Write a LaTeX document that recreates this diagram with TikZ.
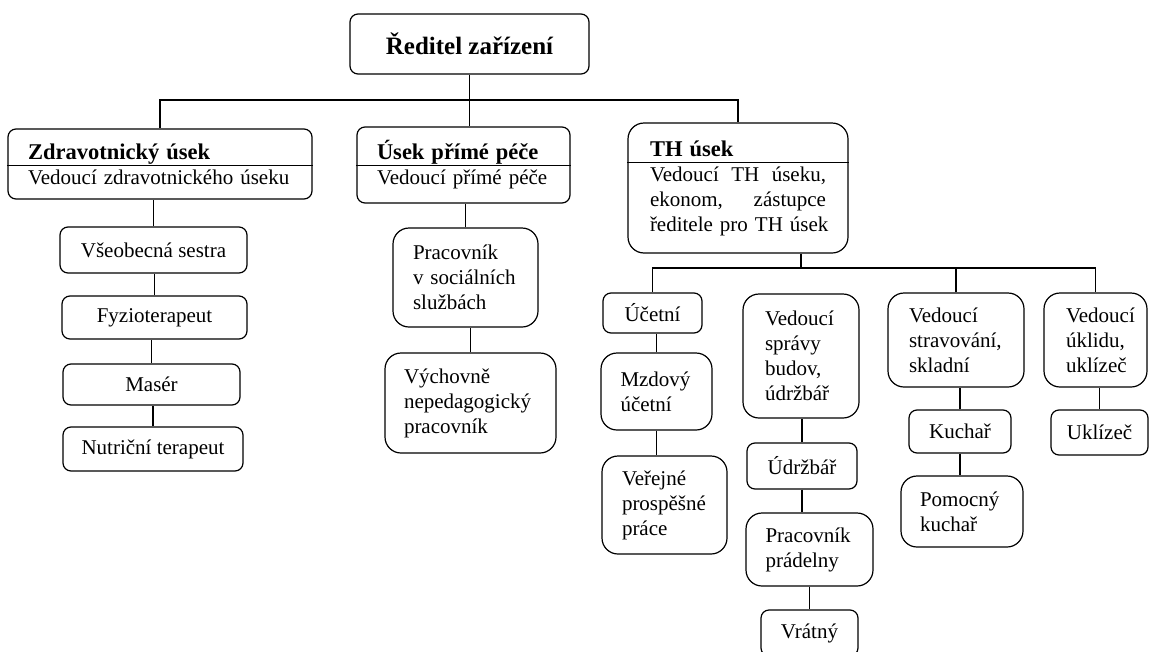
\documentclass[tikz,border=0pt]{standalone}
\usepackage{fontspec}
\setmainfont{Liberation Serif}
\newcommand{\unithead}[1]{{\fontsize{22.5}{25}\selectfont\bfseries #1}}

\begin{document}
\begin{tikzpicture}[x=1pt, y=-1pt, line width=1.2pt,
	unit/.style={draw, rounded corners=8pt, inner sep=0pt, align=center, font=\fontsize{21}{25}\selectfont},
	bigunit/.style={unit, rounded corners=16pt},
	sz/.style 2 args={minimum width=#1pt, minimum height=#2pt},
	txt/.style={text width=#1pt, align=left}]
\clip (0,0) rectangle (1149,651);
\node[unit, sz={239}{60}, font=\fontsize{25}{30}\selectfont\bfseries] (dir) at (469.5,44) {Ředitel zařízení};
\node[unit, sz={304}{70}, txt=264] (zdrav) at (160,164) {\unithead{Zdravotnický úsek}\\Vedoucí zdravotnického úseku};
\node[unit, sz={213}{76}, txt=173] (prime) at (463.5,165) {\unithead{Úsek přímé péče}\\Vedoucí přímé péče};
\node[bigunit, sz={220}{130}, txt=176] (th) at (738,188) {\unithead{TH úsek}\\\makebox[176pt][l]{Vedoucí\hfill TH\hfill úseku,}\\\makebox[176pt][l]{ekonom,\hfill zástupce}\\\makebox[176pt][l]{ředitele pro TH úsek}};
\node[unit, sz={187}{46}] (sestra) at (153.5,250) {Všeobecná sestra};
\node[unit, sz={185}{43}] (fyzio) at (154.5,317.5) {Fyzioterapeut};
\node[unit, sz={177}{41}] (maser) at (151.5,384.5) {Masér};
\node[unit, sz={180}{44}] (nutri) at (153,449) {Nutriční terapeut};
\node[bigunit, sz={145}{99}, txt=105] (socialni) at (465.5,277.5) {Pracovník\\v sociálních\\službách};
\node[bigunit, sz={171}{100}, txt=133] (vychovne) at (470.5,403) {Výchovně\\nepedagogický\\pracovník};
\node[unit, sz={99}{40}] (ucetni) at (652.5,313) {Účetní};
\node[bigunit, sz={111}{77}, txt=72] (mzdovy) at (656.5,391.5) {Mzdový\\účetní};
\node[bigunit, sz={125}{98}, txt=85] (verejne) at (664.5,505) {Veřejné\\prospěšné\\práce};
\node[bigunit, sz={116}{124}, txt=72] (spravy) at (801,356) {Vedoucí\\správy\\budov,\\údržbář};
\node[unit, sz={110}{46}] (udrzbar) at (802,466) {Údržbář};
\node[bigunit, sz={127}{73}, txt=88] (pradelna) at (809.5,549.5) {Pracovník\\prádelny};
\node[unit, sz={97}{46}] (vratny) at (809.5,633) {Vrátný};
\node[bigunit, sz={136}{94}, txt=94] (stravovani) at (956,340) {Vedoucí\\stravování,\\skladní};
\node[unit, sz={102}{43}] (kuchar) at (960,431.5) {Kuchař};
\node[bigunit, sz={122}{71}, txt=84] (pomocny) at (962,511.5) {Pomocný\\kuchař};
\node[bigunit, sz={103}{94}, txt=85] (uklid) at (1095.5,340) {\hspace*{13pt}Vedoucí\\\hspace*{13pt}úklidu,\\\hspace*{13pt}uklízeč};
\node[unit, sz={97}{45}] (uklizec) at (1099.5,432.5) {Uklízeč};
\coordinate (mainbus) at (469.5,100);
\coordinate (thbus) at (801,268);
\draw ([yshift=-37pt]zdrav.north west) -- ([yshift=-37pt]zdrav.north east);
\draw ([yshift=-39pt]prime.north west) -- ([yshift=-39pt]prime.north east);
\draw ([yshift=-40pt]th.north west) -- ([yshift=-40pt]th.north east);
\draw (dir.south) -- (prime.north -| dir.south);
\draw (zdrav.north) |- (mainbus) -| (th.north);
\draw (sestra.north) -- (sestra.north |- zdrav.south);
\draw (fyzio.north) -- (fyzio.north |- sestra.south);
\draw (maser.north) -- (maser.north |- fyzio.south);
\draw (nutri.north) -- (nutri.north |- maser.south);
\draw (socialni.north) -- (socialni.north |- prime.south);
\draw (vychovne.north) -- (vychovne.north |- socialni.south);
\draw (th.south -| thbus) -- (thbus);
\draw (ucetni.north) |- (thbus) -| (uklid.north);
\draw (stravovani.north) -- (stravovani.north |- thbus);
\draw (mzdovy.north) -- (mzdovy.north |- ucetni.south);
\draw (mzdovy.south) -- (mzdovy.south |- verejne.north);
\draw (udrzbar.north) -- (udrzbar.north |- spravy.south);
\draw (udrzbar.south) -- (udrzbar.south |- pradelna.north);
\draw (pradelna.south) -- (pradelna.south |- vratny.north);
\draw (kuchar.north) -- (kuchar.north |- stravovani.south);
\draw (kuchar.south) -- (kuchar.south |- pomocny.north);
\draw (uklizec.north) -- (uklizec.north |- uklid.south);
\end{tikzpicture}
\end{document}
